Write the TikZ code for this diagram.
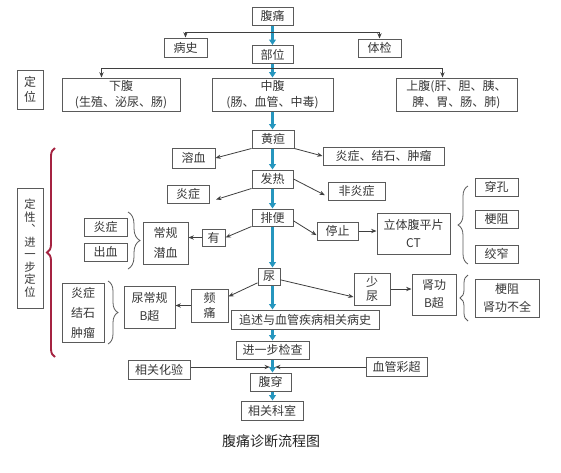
\documentclass[tikz,border=0pt]{standalone}
\usepackage{fontspec}
\setmainfont{Noto Sans CJK SC}
\usetikzlibrary{arrows.meta,decorations.pathreplacing}
\definecolor{boxgray}{RGB}{90,90,90}
\definecolor{txtgray}{RGB}{55,55,55}
\definecolor{flowblue}{RGB}{38,150,190}
\definecolor{bracered}{RGB}{165,35,65}
\tikzset{every picture/.style={line width=0.75pt}}
\tikzset{
  box/.style 2 args={draw=boxgray, text=txtgray, inner sep=0pt, align=center,
    minimum width=#1*0.75pt, minimum height=#2*0.75pt, font=\fontsize{9}{12}\selectfont},
  flow/.style={draw=flowblue, line width=2pt, -{Triangle[length=4pt,width=5pt]}},
  arr/.style={draw=boxgray!70!black, line width=0.6pt, -{Stealth[length=4pt,width=3.2pt]}},
  brc/.style={draw=boxgray, line width=0.6pt, decorate, decoration={brace,amplitude=#1}},
}
\begin{document}
\begin{tikzpicture}[x=0.75pt,y=0.75pt,yscale=-1,xscale=1]
	\path[fill=white] (0,0) rectangle (561,472);
	\useasboundingbox (0,0) rectangle (561,472);

	%Shape: Rectangle  (main column)
	\node[box={41}{18}] (ft) at (272.5,16) {腹痛};
	\node[box={43}{19}] (bs) at (185.5,47.5) {病史};
	\node[box={41}{18}] (bw) at (272.5,54.5) {部位};
	\node[box={43}{18}] (tj) at (379.5,48) {体检};
	\node[box={26}{39}, font=\fontsize{9}{11}\selectfont] (dw) at (30,89.5) {定\\位};
	\node[box={118}{33}] (xf) at (121,94.5) {下腹\\(生殖、泌尿、肠)};
	\node[box={121}{33}] (zf) at (272.5,94.5) {中腹\\(肠、血管、中毒)};
	\node[box={121}{33}] (sf) at (456.5,94.5) {上腹(肝、胆、胰、\\脾、胃、肠、肺)};
	\node[box={42}{18}] (hd) at (273,139) {黄疸};
	\node[box={43}{20}] (rx) at (193.5,158) {溶血};
	\node[box={121}{18}] (yj1) at (383.5,156) {炎症、结石、肿瘤};
	\node[box={41}{18}] (fr) at (272.5,179) {发热};
	\node[box={42}{18}] (yz2) at (188,194) {炎症};
	\node[box={57}{18}] (fyz) at (356.5,191) {非炎症};
	\node[box={41}{17}] (pb) at (272.5,217.5) {排便};
	\node[box={23}{17}] (you) at (213.5,237.5) {有};
	\node[box={45}{42}, font=\fontsize{9}{14.5}\selectfont] (cg) at (165.5,243) {常规\\潜血};
	\node[box={43}{18}] (yz3) at (105.5,227) {炎症};
	\node[box={43}{18}] (cx) at (105.5,252) {出血};
	\node[box={41}{18}] (tz) at (337.5,231) {停止};
	\node[box={73}{41}, font=\fontsize{9}{14}\selectfont] (lt) at (413.5,233.5) {立体腹平片\\CT};
	\node[box={43}{18}] (ck) at (496.5,187) {穿孔};
	\node[box={43}{18}] (gz) at (496.5,219) {梗阻};
	\node[box={43}{18}] (jz) at (496.5,254) {绞窄};
	\node[box={22}{17}] (niao) at (269,276.5) {尿};
	\node[box={37}{33}, font=\fontsize{9}{11.5}\selectfont] (pt) at (209.5,305.5) {频\\痛};
	\node[box={51}{42}, font=\fontsize{9}{14}\selectfont] (ncg) at (149.5,307) {尿常规\\B超};
	\node[box={42}{59}, font=\fontsize{9}{15}\selectfont] (yj2) at (83,312.5) {炎症\\结石\\肿瘤};
	\node[box={148}{19}] (zs) at (305,319.5) {追述与血管疾病相关病史};
	\node[box={36}{32}, font=\fontsize{9}{10}\selectfont] (sn) at (372,289) {少\\尿};
	\node[box={44}{41}, font=\fontsize{9}{13.5}\selectfont] (sg) at (434,294.5) {肾功\\B超};
	\node[box={64}{38}, font=\fontsize{9}{13.5}\selectfont] (gs) at (507,298) {梗阻\\肾功不全};
	\node[box={73}{18}] (jyb) at (272.5,350) {进一步检查};
	\node[box={62}{19}] (hy) at (159,369.5) {相关化验};
	\node[box={61}{19}] (cc) at (396.5,366.5) {血管彩超};
	\node[box={41}{18}] (fc) at (270.5,382) {腹穿};
	\node[box={62}{19}] (ks) at (272,410.5) {相关科室};
	\node[box={26}{120}, font=\fontsize{8.5}{9.4}\selectfont] (dx) at (30,248) {定\\性\\︑\\进\\一\\步\\定\\位};

	%Straight Lines  (main flow)
	\foreach \a/\b in {ft/bw, bw/zf, zf/hd, hd/fr, fr/pb, pb/niao, niao/zs, zs/jyb, jyb/fc, fc/ks}
		\draw[flow] (\a.south -| ft.south) -- (\b.north -| ft.south);

	%Straight Lines  (side branches)
	\coordinate (j1) at (272.5,32);
	\coordinate (j2) at (272.5,68);
	\draw[arr] (j1) -| (bs.north);
	\draw[arr] (j1) -| (tj.north);
	\draw[arr] (j2) -| ([xshift=30pt]xf.north west);
	\draw[arr] (j2) -| ([xshift=35.25pt]sf.north west);
	\draw[arr] (hd.south west) -- (rx.east);
	\draw[arr] (hd.south east) -- (yj1.west);
	\draw[arr] (fr.south west) -- ([xshift=5pt,yshift=-3pt]yz2.south east);
	\draw[arr] (fr.east) -- ([xshift=-2pt,yshift=-4pt]fyz.south west);
	\draw[arr] (pb.south west) -- (you.east);
	\draw[arr] (you.west) -- (cg.east |- you.west);
	\draw[arr] ([yshift=2.5pt]pb.east) -- ([yshift=-4pt]tz.south west);
	\draw[arr] (tz.east) -- (tz.east -| lt.west);
	\draw[arr] ([yshift=-2pt]niao.south west) -- ([yshift=6pt]pt.north east);
	\draw[arr] (pt.west) -- (pt.west -| ncg.east);
	\draw[arr] ([yshift=2.5pt]niao.east) -- ([yshift=6pt]sn.west);
	\draw[arr] (sn.east) -- (sn.east -| sg.west);
	\coordinate (m) at (272.5,367);
	\draw[arr] (hy.east |- m) -- ([xshift=-2pt]m);
	\draw[arr] (cc.west |- m) -- ([xshift=2pt]m);

	%Shape: Brace
	\draw[brc=9pt] (128,212) -- (128,269);
	\draw[brc=7.5pt] (108,281) -- (108,344);
	\draw[brc=7.5pt] (468,264) -- (468,186);
	\draw[brc=6pt] (468,321) -- (468,275);
	\draw[brc=6pt, draw=bracered, line width=1.4pt] (55,357) -- (55,148);

	% Text Node
	\node[text=black!85, font=\fontsize{10.5}{12}\selectfont] (title) at (271,441) {腹痛诊断流程图};

\end{tikzpicture}
\end{document}
